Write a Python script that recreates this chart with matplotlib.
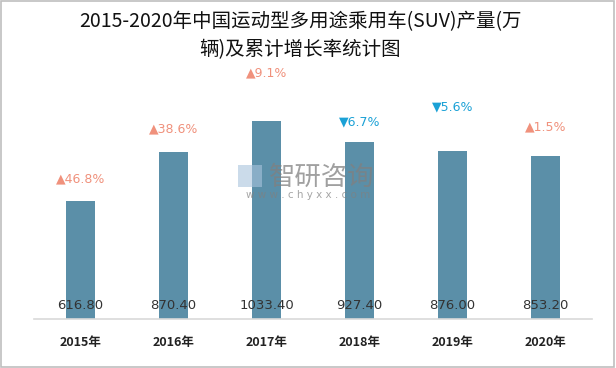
import matplotlib
matplotlib.use("Agg")
import matplotlib.pyplot as plt
from matplotlib.patches import Rectangle

plt.rcParams["font.family"] = ["Noto Sans CJK SC", "DejaVu Sans"]

years = ["2015年", "2016年", "2017年", "2018年", "2019年", "2020年"]
output = [616.80, 870.40, 1033.40, 927.40, 876.00, 853.20]
growth = [46.8, 38.6, 9.1, -6.7, -5.6, 1.5]

# vertical offset (points) of each growth label above its bar
growth_offsets = [16, 17, 35, 14, 32, 21]

BAR_COLOR = "#5B8FA8"
UP_COLOR = "#F0917C"
DOWN_COLOR = "#1BA1D6"

fig = plt.figure(figsize=(6.16, 3.68), dpi=100)
fig.patches.append(
    Rectangle((0.002, 0.004), 0.994, 0.992, transform=fig.transFigure,
              fill=False, edgecolor="#BFBFBF", linewidth=1.2)
)

ax = fig.add_axes([0.0552, 0.1332, 0.9058, 0.663])

x = list(range(len(years)))
ax.bar(x, output, width=0.31, color=BAR_COLOR)

for i, v in enumerate(output):
    ax.annotate(f"{v:.2f}", (i, 0), xytext=(0, 10), textcoords="offset points",
                ha="center", va="center", fontsize=9.5, color="#333333",
                family=["DejaVu Sans"])

for i, g in enumerate(growth):
    sign = "▲" if g >= 0 else "▼"
    color = UP_COLOR if g >= 0 else DOWN_COLOR
    ax.annotate(f"{sign}{abs(g):.1f}%", (i, output[i]),
                xytext=(0, growth_offsets[i]), textcoords="offset points",
                ha="center", va="center", fontsize=9, color=color,
                family=["DejaVu Sans"])

ax.set_xlim(-0.5, len(years) - 0.5)
ax.set_ylim(0, 1275)
ax.set_yticks([])
ax.set_xticks(x)
ax.set_xticklabels(years, fontsize=9, fontweight="bold", color="#222222")
ax.tick_params(axis="x", length=0, pad=12)
for side in ["top", "right", "left"]:
    ax.spines[side].set_visible(False)
ax.spines["bottom"].set_color("#D9D9D9")
ax.spines["bottom"].set_linewidth(1.2)

# watermark
fig.text(0.523, 0.519, "智研咨询", fontsize=19, color="#808080", alpha=0.75,
         ha="center", va="center")
fig.text(0.5, 0.47, "w w w . c h y x x . c o m", fontsize=7.5, color="#808080",
         alpha=0.7, ha="center", va="center", family=["DejaVu Sans"])
fig.patches.append(
    Rectangle((0.386, 0.492), 0.039, 0.06, transform=fig.transFigure,
              facecolor="#A9C4DC", edgecolor="none", alpha=0.6)
)

fig.text(0.487, 0.94, "2015-2020年中国运动型多用途乘用车(SUV)产量(万",
         fontsize=14, ha="center", va="center", color="#111111")
fig.text(0.487, 0.865, "辆)及累计增长率统计图",
         fontsize=14, ha="center", va="center", color="#111111")

plt.savefig("out.png", dpi=100)
plt.close()
